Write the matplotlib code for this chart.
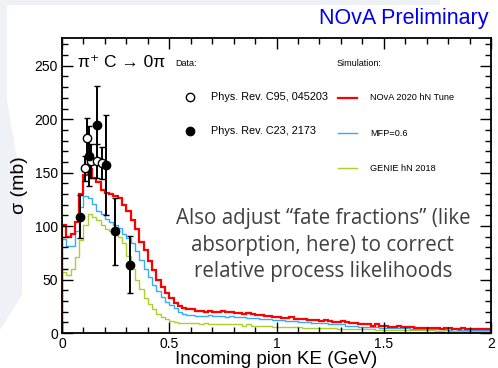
import matplotlib
matplotlib.use("Agg")
import matplotlib.pyplot as plt
import numpy as np
from matplotlib.patches import Polygon

# histogram binning (GeV)
bin_edges = np.linspace(0, 2, 101)

# NOvA 2020 hN Tune
red_vals = [101, 90, 93, 104, 130, 148, 153, 145, 141, 134,
            131, 130, 128, 126, 120, 114, 106, 97, 85, 78,
            67, 59, 50, 43, 37, 33, 28, 25, 23, 22,
            22, 21, 21, 20, 21, 20, 20, 21, 20, 20,
            19, 19, 18, 19, 18, 17, 17, 16, 16, 15,
            15, 14, 14, 15, 13, 13, 13, 12, 12, 12,
            11, 12, 11, 10, 10, 11, 10, 9, 9, 8,
            8, 8, 7, 8, 7, 7, 6, 6, 7, 6,
            6, 6, 5, 5, 5, 5, 5, 5, 4, 5,
            5, 4, 4, 5, 4, 4, 4, 4, 4, 4]

# MFP=0.6
blue_vals = [88, 81, 81, 95, 118, 128, 126, 121, 114, 111,
             107, 104, 101, 98, 93, 89, 84, 77, 68, 60,
             52, 45, 39, 34, 29, 26, 23, 20, 18, 17,
             17, 16, 16, 16, 17, 16, 16, 16, 15, 16,
             15, 15, 15, 14, 14, 14, 13, 13, 13, 12,
             12, 12, 11, 11, 11, 10, 10, 10, 9, 9,
             9, 9, 8, 8, 8, 8, 7, 7, 7, 6,
             6, 6, 6, 6, 5, 5, 5, 5, 5, 5,
             5, 4, 4, 4, 4, 4, 4, 4, 4, 4,
             3, 4, 3, 3, 3, 3, 3, 3, 3, 3]

# GENIE hN 2018
green_vals = [57, 54, 60, 71, 87, 101, 111, 109, 106, 101,
              97, 95, 94, 90, 84, 72, 60, 50, 41, 33,
              27, 22, 18, 15, 13, 11, 10, 9, 9, 9,
              9, 9, 8, 9, 8, 8, 8, 8, 8, 8,
              8, 8, 7, 8, 7, 7, 7, 7, 7, 6,
              6, 6, 6, 6, 6, 6, 5, 5, 5, 5,
              5, 5, 5, 5, 4, 4, 4, 4, 4, 4,
              4, 4, 4, 3, 3, 3, 3, 3, 3, 3,
              3, 3, 3, 3, 3, 3, 3, 2, 2, 3,
              2, 2, 2, 2, 2, 2, 2, 2, 2, 2]

# data: Phys. Rev. C95, 045203 (open)
open_ke = [0.106, 0.117, 0.137, 0.163, 0.188]
open_xs = [154, 182.5, 161, 161, 159]
open_err = [12, 19, 16, 16, 15]

# data: Phys. Rev. C23, 2173 (filled)
fill_ke = [0.083, 0.125, 0.165, 0.207, 0.246, 0.316]
fill_xs = [109, 166, 195, 157, 95, 64]
fill_err = [20, 28, 36, 47, 31, 27]

red = '#ff0000'
blue = '#33aaff'
green = '#aad12a'
helv = ['Liberation Sans', 'DejaVu Sans']

W, H = 498, 368
fig = plt.figure(figsize=(W / 100, H / 100), dpi=100)
fig.patch.set_facecolor('white')

# light slide background on the left / top (pixel outline -> figure fraction)
bg = [(0, 0), (440, 0), (440, 5), (7, 5), (7, 100), (22, 190), (22, 295), (0, 330)]
fig.patches.append(Polygon([(x / W, 1 - y / H) for x, y in bg], closed=True,
                           transform=fig.transFigure, facecolor='#eef1f5',
                           edgecolor='none', zorder=-5))

ax = fig.add_axes([0.1245, 0.0951, 0.8615, 0.8016])

ax.stairs(green_vals, bin_edges, color=green, lw=1.0, baseline=0)
ax.stairs(blue_vals, bin_edges, color=blue, lw=1.0, baseline=0)
ax.stairs(red_vals, bin_edges, color=red, lw=1.6, baseline=0)

ax.errorbar(open_ke, open_xs, yerr=open_err, fmt='o', ms=6, mfc='white', mec='black',
            mew=1.0, ecolor='black', elinewidth=1.4, capsize=2, zorder=5)
ax.errorbar(fill_ke, fill_xs, yerr=fill_err, fmt='o', ms=6, mfc='black', mec='black',
            ecolor='black', elinewidth=1.4, capsize=2, zorder=5)

ax.set_xlim(0, 2)
ax.set_ylim(0, 276)
ax.set_xticks([0, 0.5, 1, 1.5, 2])
ax.set_xticklabels(['0', '0.5', '1', '1.5', '2'])
ax.set_xticks(np.arange(0, 2.01, 0.1), minor=True)
ax.set_yticks([0, 50, 100, 150, 200, 250])
ax.set_yticks(np.arange(0, 271, 10), minor=True)
ax.tick_params(which='both', direction='in', top=True, right=True, labelsize=10, width=1.0)
ax.tick_params(which='major', length=8, pad=3)
ax.tick_params(which='minor', length=4)
for s in ax.spines.values():
    s.set_linewidth(1.3)
for lab in ax.get_xticklabels() + ax.get_yticklabels():
    lab.set_family(helv)

ax.set_xlabel('Incoming pion KE (GeV)', fontsize=13.5, family=helv, labelpad=0)
ax.set_ylabel('σ (mb)', fontsize=14, family=helv, labelpad=5)

# labels inside the frame
ax.text(0.037, 0.918, '\u03c0\u207a C \u2192 0\u03c0', transform=ax.transAxes,
        fontsize=12.5, va='center', ha='left', family=helv)
ax.text(0.263, 0.915, 'Data:', transform=ax.transAxes, fontsize=6.5, va='center', family=helv)
ax.text(0.641, 0.915, 'Simulation:', transform=ax.transAxes, fontsize=6.5, va='center', family=helv)

ax.plot([0.298], [0.80], 'o', ms=6, mfc='white', mec='black', transform=ax.transAxes, clip_on=False)
ax.text(0.347, 0.80, 'Phys. Rev. C95, 045203', transform=ax.transAxes, fontsize=7.8, va='center', family=helv)
ax.plot([0.298], [0.685], 'o', ms=6, mfc='black', mec='black', transform=ax.transAxes, clip_on=False)
ax.text(0.347, 0.685, 'Phys. Rev. C23, 2173', transform=ax.transAxes, fontsize=7.8, va='center', family=helv)

ax.plot([0.643, 0.688], [0.797, 0.797], color=red, lw=1.6, transform=ax.transAxes)
ax.text(0.718, 0.797, 'NOvA 2020 hN Tune', transform=ax.transAxes, fontsize=6.6, va='center', family=helv)
ax.plot([0.643, 0.688], [0.678, 0.678], color=blue, lw=1.0, transform=ax.transAxes)
ax.text(0.718, 0.678, 'MFP=0.6', transform=ax.transAxes, fontsize=6.6, va='center', family=helv)
ax.plot([0.643, 0.688], [0.559, 0.559], color=green, lw=1.0, transform=ax.transAxes)
ax.text(0.718, 0.559, 'GENIE hN 2018', transform=ax.transAxes, fontsize=6.6, va='center', family=helv)

ax.text(0.608, 0.298, 'Also adjust \u201cfate fractions\u201d (like\nabsorption, here) to correct\nrelative process likelihoods',
        transform=ax.transAxes, ha='center', va='center', fontsize=14.8, color='#404040',
        family='Open Sans', linespacing=1.32)

fig.text(0.98, 0.951, 'NOvA Preliminary', color='#0000ee', fontsize=15.5, ha='right', va='center',
         family=helv)

fig.savefig('out.png', dpi=100)
